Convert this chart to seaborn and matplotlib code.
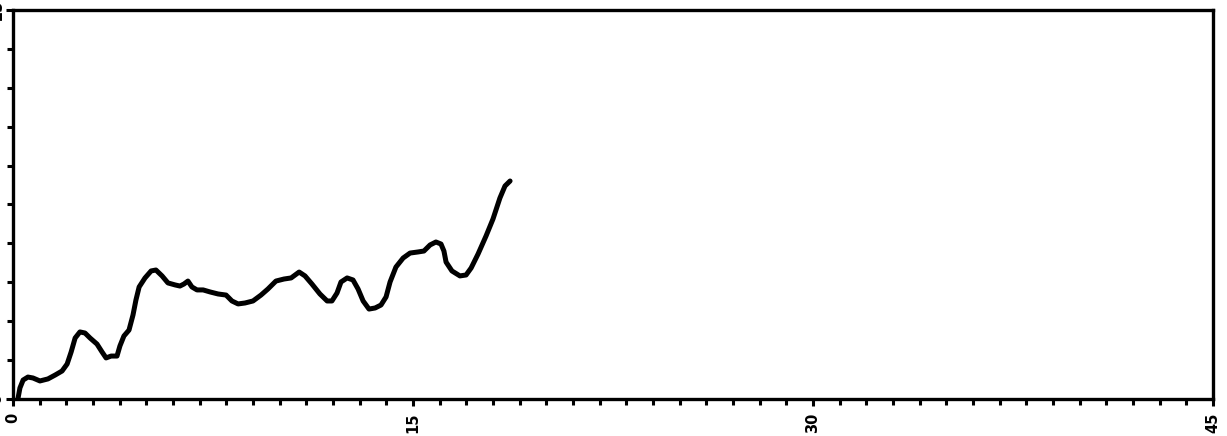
import numpy as np
import pandas as pd
import matplotlib
matplotlib.use("Agg")
import matplotlib.pyplot as plt
import seaborn as sns
from matplotlib.ticker import MultipleLocator

# Curva (tempo x resposta)
tempo = [0.19, 0.26, 0.38, 0.56, 0.75, 1.01, 1.31, 1.58, 1.84, 2.03,
         2.18, 2.33, 2.51, 2.70, 2.89, 3.15, 3.34, 3.49, 3.68, 3.90,
         4.01, 4.16, 4.35, 4.50, 4.61, 4.73, 4.95, 5.18, 5.36, 5.59,
         5.81, 6.08, 6.26, 6.41, 6.56, 6.71, 6.90, 7.13, 7.39, 7.69,
         7.99, 8.21, 8.44, 8.70, 9.00, 9.30, 9.56, 9.86, 10.16, 10.43,
         10.73, 10.95, 11.21, 11.51, 11.78, 11.96, 12.15, 12.30, 12.53, 12.75,
         12.94, 13.13, 13.35, 13.58, 13.80, 13.99, 14.14, 14.36, 14.63, 14.89,
         15.19, 15.41, 15.64, 15.86, 16.05, 16.16, 16.24, 16.46, 16.76, 16.99,
         17.18, 17.44, 17.74, 18.00, 18.26, 18.45, 18.64]
resposta = [0.06, 0.71, 1.22, 1.41, 1.35, 1.16, 1.29, 1.54, 1.80, 2.25,
            3.02, 3.92, 4.31, 4.24, 3.92, 3.53, 3.02, 2.64, 2.76, 2.76,
            3.41, 4.05, 4.43, 5.40, 6.36, 7.20, 7.78, 8.23, 8.29, 7.91,
            7.46, 7.33, 7.26, 7.39, 7.58, 7.20, 7.01, 7.01, 6.88, 6.75,
            6.68, 6.30, 6.11, 6.17, 6.30, 6.68, 7.07, 7.58, 7.71, 7.78,
            8.16, 7.91, 7.39, 6.75, 6.30, 6.30, 6.81, 7.52, 7.78, 7.65,
            7.07, 6.30, 5.78, 5.85, 6.04, 6.56, 7.52, 8.48, 9.06, 9.38,
            9.45, 9.51, 9.90, 10.09, 9.96, 9.51, 8.80, 8.23, 7.91, 7.97,
            8.42, 9.32, 10.48, 11.57, 12.92, 13.69, 14.01]

x_ticks = [0, 15, 30, 45]
y_ticks = [0, 25]

df = pd.DataFrame({"tempo": tempo, "resposta": resposta})

sns.set_style("ticks")
plt.rcParams["font.family"] = ["DejaVu Sans"]

fig = plt.figure(figsize=(12.27, 4.36), dpi=100)
ax = fig.add_axes([13 / 1227, 37 / 436, 1200 / 1227, 389 / 436])

sns.lineplot(data=df, x="tempo", y="resposta", estimator=None, sort=False,
             color="black", lw=3.6, ax=ax)

ax.set_xlim(0, 45)
ax.set_ylim(0, 25)
ax.set_xlabel("")
ax.set_ylabel("")

for s in ax.spines.values():
    s.set_linewidth(2.4)
    s.set_color("black")

ax.set_xticks(x_ticks)
ax.set_xticklabels([str(t) for t in x_ticks], rotation=90, fontsize=10.5,
                   fontweight="heavy")
ax.xaxis.set_minor_locator(MultipleLocator(1))
ax.set_yticks(y_ticks)
ax.set_yticklabels([str(t) for t in y_ticks], rotation=90, fontsize=10.5,
                   fontweight="heavy", va="center")
ax.yaxis.set_minor_locator(MultipleLocator(2.5))
ax.tick_params(which="both", direction="out", width=2.2, colors="black")
ax.tick_params(which="major", length=5)
ax.tick_params(which="minor", length=4)
ax.tick_params(axis="x", which="major", pad=5)
ax.tick_params(axis="y", which="major", pad=1)

fig.savefig("out.png", dpi=100, facecolor="white")
plt.close(fig)
